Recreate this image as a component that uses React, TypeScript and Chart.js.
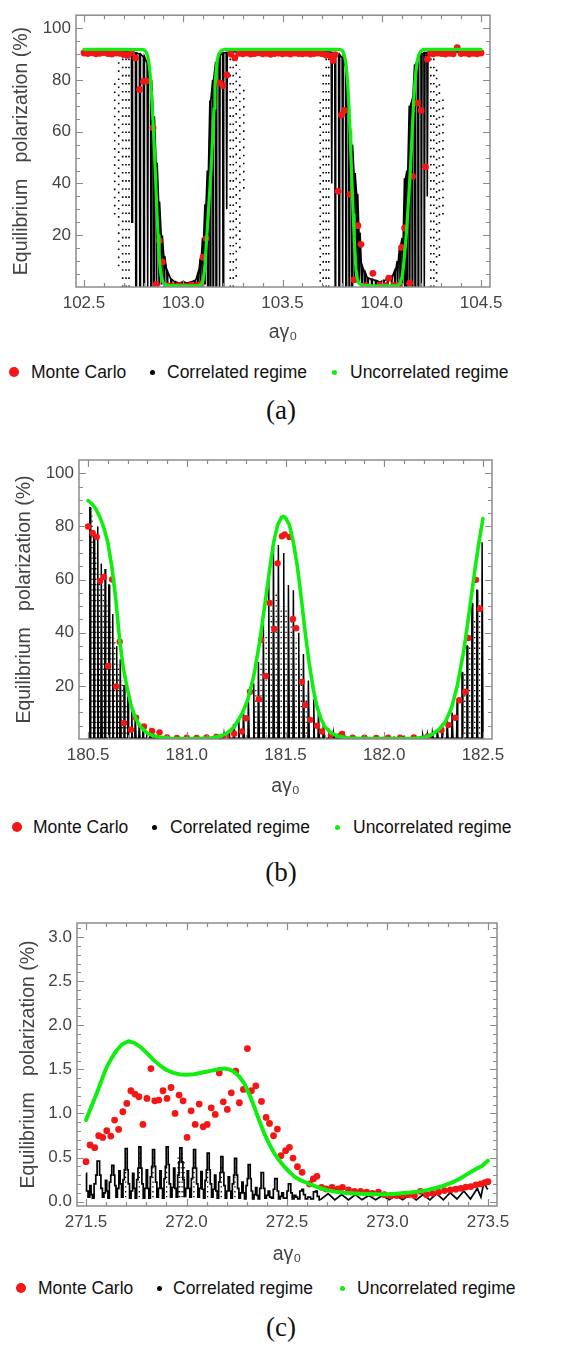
import React, { useEffect, useRef } from "react";
import { Chart, registerables } from "chart.js";

Chart.register(...registerables);

type Pt = [number, number];
type Col = [number, number, number];

const SANS = '"Liberation Sans", Arial, Helvetica, sans-serif';
const SERIF = '"Liberation Serif", "Times New Roman", serif';
const TEXT_GRAY = "#444444";
const FRAME_GRAY = "#8c8c8c";
const RED = "rgb(242,22,22)";
const GREEN = "rgb(16,238,16)";

const Y_TITLE = "Equilibrium   polarization (%)";
const X_TITLE = "a\u03b3\u2080";
const LEGEND_LABELS = ["Monte Carlo", "Correlated regime", "Uncorrelated regime"];

// ---------------- Panel (a) ----------------
const aXTicks = [102.5, 103.0, 103.5, 104.0, 104.5];
const aYTicks = [20, 40, 60, 80, 100];

const aGreen: Pt[] = [
  [102.5, 91.8], [102.7, 91.8], [102.8, 91.7], [102.812, 91], [102.822, 89], [102.83, 85], [102.836, 80],
  [102.842, 72], [102.848, 64], [102.853, 56], [102.858, 47], [102.863, 38], [102.868, 28], [102.873, 20],
  [102.878, 13], [102.883, 8], [102.888, 4.5], [102.895, 2.2], [102.905, 1], [102.93, 0.5], [103.0, 0.4],
  [103.08, 0.5], [103.092, 1.2], [103.1, 2.5], [103.105, 5], [103.11, 9], [103.115, 15], [103.12, 21],
  [103.125, 27], [103.13, 33], [103.135, 39], [103.14, 45], [103.145, 53], [103.15, 60], [103.155, 69],
  [103.16, 77], [103.165, 83], [103.17, 87], [103.178, 90], [103.19, 91.2], [103.205, 91.8], [103.79, 91.8],
  [103.803, 91.2], [103.812, 89.5], [103.82, 86], [103.826, 81], [103.831, 75], [103.836, 68], [103.84, 60],
  [103.844, 52], [103.848, 44], [103.852, 36], [103.856, 28], [103.86, 21], [103.865, 13], [103.87, 7],
  [103.876, 3.5], [103.885, 1.5], [103.9, 0.6], [103.95, 0.4], [104.08, 0.5], [104.093, 1.5], [104.102, 4],
  [104.108, 7], [104.114, 12], [104.12, 17], [104.125, 22], [104.13, 28], [104.135, 34], [104.14, 40],
  [104.145, 47], [104.15, 55], [104.155, 63], [104.16, 71], [104.165, 77], [104.17, 82], [104.177, 86.5],
  [104.185, 89.5], [104.195, 91], [104.21, 91.8], [104.5, 91.8],
];

const aRed: Pt[] = [
  [102.5, 90.4], [102.52, 90.2], [102.54, 90.5], [102.56, 90.1], [102.58, 90.3], [102.6, 90.6], [102.62, 90.2],
  [102.64, 90.0], [102.66, 90.4], [102.68, 90.3], [102.7, 89.8], [102.72, 89.5], [102.74, 90.6], [102.76, 88.5],
  [102.78, 76.3], [102.8, 79.4], [102.815, 79.6], [102.848, 61.5], [102.865, 1], [102.88, 17.8], [102.895, 9.7],
  [102.92, 0.5], [102.95, 0.4], [102.98, 0.6], [103.01, 0.3], [103.04, 0.8], [103.07, 0.5], [103.09, 1.2],
  [103.1, 11.5], [103.115, 18.7], [103.185, 78.8], [103.2, 77.8], [103.22, 81.9], [103.24, 90.0], [103.26, 88.5],
  [103.28, 90.3], [103.3, 90.1], [103.32, 90.4], [103.34, 90.0], [103.36, 90.2], [103.38, 90.5], [103.4, 90.1],
  [103.42, 90.3], [103.44, 89.9], [103.46, 90.2], [103.48, 90.4], [103.5, 90.1], [103.52, 90.3], [103.54, 90.0],
  [103.56, 90.4], [103.58, 90.2], [103.6, 90.1], [103.62, 90.3], [103.64, 90.0], [103.66, 90.2], [103.68, 90.4],
  [103.7, 90.1], [103.72, 89.6], [103.74, 89.3], [103.755, 87.5], [103.765, 89.8], [103.78, 37], [103.797, 66.4],
  [103.812, 68.2], [103.84, 35.8], [103.86, 2.8], [103.88, 23.7], [103.895, 16.5], [103.92, 0.5], [103.955, 5.3],
  [103.99, 0.8], [104.02, 0.5], [104.035, 3.4], [104.06, 0.6], [104.09, 1.0], [104.1, 15.3], [104.115, 22.8],
  [104.14, 1.5], [104.155, 42.7], [104.18, 71], [104.198, 68.2], [104.22, 46.4], [104.23, 88], [104.245, 90.3],
  [104.26, 90.1], [104.28, 90.4], [104.3, 90.2], [104.32, 90.0], [104.34, 90.3], [104.36, 90.1], [104.38, 92.5],
  [104.4, 90.2], [104.42, 90.4], [104.44, 90.0], [104.46, 90.3], [104.48, 90.1], [104.5, 90.4],
];

// correlated regime: [x, running level, excursion reached at x]
const aBlack: Col[] = [
  [102.5, 90.8, 90.8], [102.735, 90.8, 90.8], [102.742, 90.6, 25], [102.762, 90.4, 0], [102.782, 90.0, 0],
  [102.802, 89.0, 0], [102.821, 86.5, 0], [102.838, 80, 0], [102.852, 66, 0], [102.866, 48, 1], [102.879, 33, 1],
  [102.892, 20, 1], [102.905, 12, 1], [102.92, 6, 1], [102.94, 3, 0.5], [102.96, 2, 0.5], [102.98, 1.5, 0.5],
  [103.0, 2, 0.5], [103.02, 1.5, 0.5], [103.04, 2, 0.5], [103.06, 2.5, 0.5], [103.075, 5, 1], [103.088, 11, 1],
  [103.1, 19, 1], [103.112, 32, 1], [103.124, 45, 0], [103.137, 72, 0], [103.151, 80, 0], [103.166, 87, 0],
  [103.183, 89.5, 0], [103.201, 90.4, 0], [103.219, 90.6, 30], [103.23, 90.8, 90.8], [103.74, 90.8, 90.8],
  [103.748, 90.6, 40], [103.766, 90.4, 0], [103.785, 89.8, 0], [103.803, 88.5, 0], [103.82, 85, 0],
  [103.836, 66, 0], [103.85, 55, 0], [103.863, 44, 2], [103.876, 36, 2], [103.888, 21, 2], [103.9, 8, 1],
  [103.915, 5.5, 1], [103.93, 3.5, 0.5], [103.95, 3, 0.5], [103.97, 2.5, 0.5], [103.99, 2, 0.5], [104.01, 2.5, 0.5],
  [104.03, 3, 0.5], [104.05, 4, 1], [104.066, 6, 1], [104.08, 10, 1], [104.093, 16, 1], [104.105, 19, 1],
  [104.117, 42, 0], [104.129, 45, 0], [104.141, 70, 0], [104.154, 72, 0], [104.168, 86, 0], [104.184, 88.5, 0],
  [104.2, 90, 0], [104.215, 90.5, 0], [104.23, 90.6, 35], [104.24, 90.8, 90.8], [104.5, 90.8, 90.8],
];

// sparse correlated-regime samples: [x, lowest dot, highest dot]
const aDots: Col[] = [
  [102.655, 28, 80], [102.675, 8, 88], [102.695, 0, 90], [102.712, 0, 90], [102.727, 0, 90],
  [103.237, 0, 90], [103.252, 0, 90], [103.267, 4, 88], [103.285, 15, 84], [103.305, 38, 78],
  [103.69, 2, 74], [103.705, 0, 82], [103.72, 0, 89], [103.733, 0, 90],
  [104.247, 0, 90], [104.262, 0, 89], [104.276, 2, 86], [104.29, 12, 80], [104.308, 28, 74],
];

// ---------------- Panel (b) ----------------
const bXTicks = [180.5, 181.0, 181.5, 182.0, 182.5];
const bYTicks = [20, 40, 60, 80, 100];

const bGreen: Pt[] = [
  [180.5, 89.7], [180.52, 88.5], [180.54, 86.5], [180.56, 83.5], [180.58, 79.5], [180.6, 74], [180.62, 65],
  [180.64, 53], [180.66, 37], [180.68, 26], [180.7, 18.5], [180.72, 12], [180.74, 8], [180.76, 5.2], [180.78, 3.5],
  [180.8, 2.2], [180.83, 1.2], [180.87, 0.6], [180.92, 0.3], [181.05, 0.2], [181.12, 0.4], [181.16, 0.9],
  [181.2, 2.0], [181.24, 4.5], [181.28, 9.5], [181.31, 15], [181.34, 24], [181.37, 37], [181.4, 53], [181.42, 64],
  [181.44, 74], [181.46, 80.5], [181.48, 83.5], [181.49, 83.8], [181.5, 83.3], [181.52, 80.5], [181.54, 74],
  [181.56, 65], [181.58, 53], [181.6, 40], [181.62, 28.5], [181.64, 19], [181.66, 12], [181.68, 7.5], [181.7, 4.5],
  [181.73, 2.3], [181.77, 1.0], [181.82, 0.4], [181.9, 0.2], [182.15, 0.2], [182.2, 0.6], [182.24, 1.6],
  [182.28, 3.8], [182.31, 6.5], [182.34, 11.5], [182.37, 20], [182.4, 32], [182.42, 42], [182.44, 53],
  [182.46, 64], [182.48, 74], [182.5, 83],
];

const bRed: Pt[] = [
  [180.5, 80], [180.523, 77.5], [180.544, 76], [180.561, 59.5], [180.58, 61], [180.602, 27.5], [180.622, 60],
  [180.642, 19.8], [180.66, 36.6], [180.682, 6], [180.717, 3.5], [180.743, 8], [180.783, 4.7], [180.824, 3],
  [180.862, 2.5], [180.9, 0.6], [180.95, 0.4], [181.0, 0.5], [181.05, 0.4], [181.1, 0.6], [181.15, 0.8],
  [181.2, 1.0], [181.24, 2.0], [181.28, 2.8], [181.3, 7.8], [181.32, 17.8], [181.365, 15], [181.376, 37.3],
  [181.4, 23.7], [181.42, 51.2], [181.443, 41.4], [181.46, 66.1], [181.482, 76.3], [181.496, 77], [181.52, 76],
  [181.538, 45.2], [181.554, 41.7], [181.583, 21.5], [181.6, 12.8], [181.626, 7.2], [181.66, 5], [181.685, 2.8],
  [181.73, 1.5], [181.786, 1.9], [181.84, 0.5], [181.9, 0.5], [181.96, 0.4], [182.02, 0.5], [182.08, 0.5],
  [182.15, 0.6], [182.22, 1.0], [182.29, 3.4], [182.325, 5.3], [182.36, 8], [182.38, 14.6], [182.41, 17.8],
  [182.426, 38], [182.465, 59.9], [182.485, 49],
];

// correlated regime oscillation: [x, running level, peak reached at x]
const bBlack: Col[] = [
  [180.51, 0.3, 87], [180.53, 0.3, 78], [180.549, 0.3, 80], [180.568, 0.3, 66], [180.587, 0.3, 64],
  [180.606, 0.3, 58], [180.625, 0.3, 47], [180.645, 0.3, 35], [180.664, 0.3, 30], [180.683, 0.3, 20],
  [180.702, 0.3, 17], [180.721, 0.3, 11], [180.74, 0.3, 9], [180.76, 0.3, 6], [180.778, 0.3, 5],
  [180.797, 0.3, 3], [180.816, 0.3, 2.5], [180.835, 0.3, 1.5], [180.854, 0.3, 1.2], [180.9, 0.3, 0.8],
  [180.95, 0.3, 0.6], [181.0, 0.3, 0.6], [181.05, 0.3, 0.7], [181.1, 0.3, 0.9], [181.15, 0.3, 1.2],
  [181.19, 0.3, 2], [181.213, 0.3, 3], [181.238, 0.3, 5.3], [181.263, 0.3, 7.8], [181.288, 0.3, 11],
  [181.313, 0.3, 15], [181.339, 0.3, 21], [181.364, 0.3, 29], [181.389, 0.3, 43], [181.415, 0.3, 63],
  [181.44, 0.3, 72], [181.465, 0.3, 73], [181.491, 0.3, 70], [181.516, 0.3, 58], [181.541, 0.3, 56],
  [181.567, 0.3, 40], [181.592, 0.3, 32], [181.617, 0.3, 22], [181.643, 0.3, 15], [181.668, 0.3, 10],
  [181.693, 0.3, 6.5], [181.719, 0.3, 4], [181.744, 0.3, 2.5], [181.77, 0.3, 1.8], [181.8, 0.3, 1.2],
  [181.85, 0.3, 0.8], [181.9, 0.3, 0.6], [181.95, 0.3, 0.6], [182.0, 0.3, 0.6], [182.05, 0.3, 0.7],
  [182.1, 0.3, 0.9], [182.15, 0.3, 1.1], [182.195, 0.3, 1.5], [182.22, 0.3, 2], [182.245, 0.3, 2.5],
  [182.27, 0.3, 3.5], [182.295, 0.3, 5.3], [182.32, 0.3, 7], [182.345, 0.3, 10], [182.37, 0.3, 14],
  [182.395, 0.3, 25], [182.42, 0.3, 35], [182.445, 0.3, 51], [182.47, 0.3, 56], [182.497, 0.3, 74],
];

const bDots: Col[] = [
  [180.52, 0, 84], [180.539, 0, 70], [180.558, 0, 62], [180.577, 0, 58], [180.596, 0, 52], [180.615, 0, 44],
  [180.635, 0, 38], [180.654, 0, 28], [180.673, 0, 22], [180.692, 0, 14],
  [181.35, 0, 20], [181.376, 0, 30], [181.402, 0, 40], [181.428, 0, 50], [181.453, 0, 55], [181.478, 0, 50],
  [181.503, 0, 50], [181.529, 0, 45], [181.554, 0, 38], [181.58, 0, 28], [181.605, 0, 18],
  [182.408, 0, 25], [182.433, 0, 35], [182.458, 0, 45], [182.483, 0, 52],
];

// ---------------- Panel (c) ----------------
const cXTicks = [271.5, 272.0, 272.5, 273.0, 273.5];
const cYTicks = [0, 0.5, 1.0, 1.5, 2.0, 2.5, 3.0];

const cGreen: Pt[] = [
  [271.5, 0.925], [271.525, 1.07], [271.553, 1.226], [271.578, 1.38], [271.603, 1.528], [271.628, 1.63],
  [271.653, 1.717], [271.68, 1.785], [271.712, 1.819], [271.74, 1.8], [271.77, 1.755], [271.8, 1.69],
  [271.837, 1.604], [271.87, 1.54], [271.903, 1.49], [271.935, 1.46], [271.97, 1.442], [272.0, 1.44],
  [272.037, 1.445], [272.08, 1.465], [272.12, 1.483], [272.155, 1.5], [272.187, 1.51], [272.212, 1.5],
  [272.237, 1.472], [272.262, 1.42], [272.287, 1.34], [272.312, 1.22], [272.337, 1.075], [272.362, 0.92],
  [272.387, 0.774], [272.412, 0.65], [272.437, 0.547], [272.462, 0.465], [272.487, 0.396], [272.512, 0.335],
  [272.537, 0.283], [272.57, 0.24], [272.603, 0.208], [272.635, 0.178], [272.67, 0.151], [272.7, 0.13],
  [272.737, 0.113], [272.78, 0.1], [272.82, 0.094], [272.86, 0.09], [272.903, 0.087], [272.95, 0.084],
  [272.987, 0.083], [273.03, 0.087], [273.07, 0.094], [273.11, 0.102], [273.153, 0.113], [273.195, 0.13],
  [273.237, 0.151], [273.28, 0.18], [273.32, 0.215], [273.36, 0.26], [273.403, 0.32], [273.44, 0.37],
  [273.47, 0.404], [273.5, 0.464],
];

const cRed: Pt[] = [
  [271.5, 0.453], [271.52, 0.642], [271.543, 0.611], [271.563, 0.747], [271.583, 0.728], [271.603, 0.804],
  [271.623, 0.743], [271.642, 0.925], [271.662, 0.819], [271.683, 1.019], [271.703, 1.113], [271.723, 1.257],
  [271.743, 1.219], [271.763, 1.189], [271.783, 0.875], [271.803, 1.17], [271.823, 1.509], [271.842, 1.143],
  [271.862, 1.151], [271.883, 1.257], [271.903, 1.17], [271.923, 1.294], [271.943, 1.0], [271.963, 1.208],
  [271.983, 1.143], [272.003, 0.728], [272.023, 1.03], [272.043, 0.875], [272.063, 1.106], [272.083, 0.849],
  [272.103, 0.875], [272.123, 1.064], [272.143, 0.989], [272.163, 1.46], [272.183, 1.132], [272.203, 1.045],
  [272.223, 1.234], [272.245, 1.479], [272.263, 1.121], [272.283, 1.272], [272.303, 1.736], [272.323, 1.257],
  [272.345, 1.313], [272.373, 1.136], [272.396, 0.955], [272.413, 0.887], [272.433, 0.747], [272.452, 0.823],
  [272.47, 0.52], [272.493, 0.577], [272.512, 0.615], [272.53, 0.494], [272.552, 0.396], [272.575, 0.332],
  [272.612, 0.2], [272.631, 0.257], [272.649, 0.287], [272.672, 0.162], [272.694, 0.143], [272.724, 0.162],
  [272.754, 0.143], [272.776, 0.162], [272.806, 0.132], [272.836, 0.117], [272.866, 0.117], [272.896, 0.106],
  [272.925, 0.094], [272.955, 0.106], [272.985, 0.079], [273.015, 0.068], [273.045, 0.068], [273.075, 0.068],
  [273.104, 0.079], [273.134, 0.068], [273.164, 0.117], [273.194, 0.079], [273.224, 0.094], [273.254, 0.106],
  [273.284, 0.125], [273.313, 0.132], [273.34, 0.14], [273.365, 0.15], [273.39, 0.165], [273.415, 0.17],
  [273.44, 0.19], [273.465, 0.2], [273.485, 0.215], [273.5, 0.226],
];

// correlated regime, step-like part
const cBlack: Pt[] = [
  [271.5, 0.32], [271.505, 0.12], [271.515, 0.05], [271.522, 0.18], [271.528, 0.08], [271.535, 0.04],
  [271.545, 0.2], [271.552, 0.3], [271.558, 0.46], [271.565, 0.46], [271.57, 0.3], [271.578, 0.15],
  [271.585, 0.05], [271.593, 0.1], [271.6, 0.24], [271.606, 0.12], [271.612, 0.04], [271.62, 0.22],
  [271.626, 0.3], [271.63, 0.41], [271.636, 0.41], [271.64, 0.3], [271.646, 0.18], [271.652, 0.05],
  [271.66, 0.15], [271.667, 0.35], [271.673, 0.2], [271.68, 0.05], [271.688, 0.25], [271.693, 0.36],
  [271.697, 0.6], [271.703, 0.6], [271.707, 0.36], [271.713, 0.2], [271.72, 0.04], [271.728, 0.12],
  [271.735, 0.32], [271.741, 0.15], [271.748, 0.04], [271.756, 0.25], [271.761, 0.38], [271.765, 0.62],
  [271.771, 0.62], [271.775, 0.38], [271.781, 0.2], [271.788, 0.04], [271.796, 0.15], [271.803, 0.36],
  [271.809, 0.15], [271.816, 0.04], [271.824, 0.28], [271.829, 0.4], [271.833, 0.59], [271.839, 0.59],
  [271.843, 0.4], [271.849, 0.22], [271.856, 0.05], [271.864, 0.15], [271.871, 0.35], [271.877, 0.15],
  [271.884, 0.04], [271.892, 0.26], [271.897, 0.4], [271.901, 0.62], [271.907, 0.62], [271.911, 0.42],
  [271.917, 0.2], [271.924, 0.05], [271.932, 0.16], [271.939, 0.38], [271.945, 0.15], [271.952, 0.05],
  [271.96, 0.3], [271.965, 0.45], [271.969, 0.61], [271.975, 0.61], [271.979, 0.45], [271.985, 0.25],
  [271.992, 0.06], [272.0, 0.15], [272.007, 0.35], [272.013, 0.15], [272.02, 0.05], [272.028, 0.26],
  [272.033, 0.38], [272.037, 0.59], [272.043, 0.59], [272.047, 0.38], [272.053, 0.2], [272.06, 0.05],
  [272.068, 0.15], [272.075, 0.34], [272.081, 0.14], [272.088, 0.04], [272.096, 0.24], [272.101, 0.36],
  [272.105, 0.55], [272.111, 0.55], [272.115, 0.36], [272.121, 0.2], [272.128, 0.05], [272.136, 0.14],
  [272.143, 0.3], [272.149, 0.12], [272.156, 0.04], [272.164, 0.22], [272.169, 0.33], [272.173, 0.51],
  [272.179, 0.51], [272.183, 0.33], [272.189, 0.18], [272.196, 0.04], [272.204, 0.12], [272.211, 0.28],
  [272.217, 0.12], [272.224, 0.04], [272.232, 0.2], [272.237, 0.3], [272.241, 0.49], [272.247, 0.49],
  [272.251, 0.3], [272.257, 0.15], [272.264, 0.04], [272.272, 0.1], [272.279, 0.22], [272.285, 0.1],
  [272.292, 0.03], [272.3, 0.18], [272.305, 0.26], [272.309, 0.42], [272.315, 0.42], [272.319, 0.26],
  [272.325, 0.12], [272.332, 0.03], [272.34, 0.08], [272.347, 0.16], [272.353, 0.07], [272.36, 0.03],
  [272.368, 0.15], [272.374, 0.33], [272.38, 0.33], [272.386, 0.15], [272.393, 0.04], [272.402, 0.07],
  [272.41, 0.12], [272.418, 0.05], [272.428, 0.04], [272.436, 0.14], [272.442, 0.26], [272.448, 0.26],
  [272.454, 0.12], [272.462, 0.03], [272.47, 0.06], [272.478, 0.1], [272.486, 0.04], [272.496, 0.04],
  [272.504, 0.12], [272.51, 0.2], [272.516, 0.2], [272.522, 0.1], [272.53, 0.03], [272.54, 0.07],
  [272.548, 0.05], [272.558, 0.03], [272.57, 0.12], [272.578, 0.14], [272.586, 0.08], [272.596, 0.03],
  [272.61, 0.05], [272.625, 0.03], [272.638, 0.11], [272.646, 0.12], [272.655, 0.06], [272.665, 0.02],
];

// correlated regime, smooth small-amplitude tail
const cBlackTail: Pt[] = [
  [272.665, 0.02], [272.705, 0.09], [272.738, 0.02], [272.772, 0.08], [272.806, 0.02], [272.84, 0.08],
  [272.873, 0.02], [272.907, 0.07], [272.941, 0.02], [272.975, 0.07], [273.008, 0.02], [273.042, 0.07],
  [273.076, 0.02], [273.11, 0.08], [273.143, 0.02], [273.177, 0.08], [273.211, 0.02], [273.245, 0.09],
  [273.278, 0.02], [273.312, 0.1], [273.346, 0.03], [273.38, 0.12], [273.413, 0.03], [273.447, 0.15],
  [273.465, 0.05], [273.48, 0.22], [273.495, 0.15], [273.5, 0.14],
];

const cDots: Col[] = [
  [271.697, 0.05, 0.55], [271.765, 0.05, 0.55], [271.833, 0.05, 0.5], [271.901, 0.05, 0.55],
  [271.958, 0.05, 0.5], [271.966, 0.05, 0.58], [271.978, 0.05, 0.55], [271.988, 0.05, 0.45],
  [272.037, 0.05, 0.5], [272.105, 0.05, 0.45], [272.173, 0.05, 0.4], [272.241, 0.05, 0.4],
];

// ---------------- helpers ----------------
type XY = { x: number; y: number | null };
const toXY = (pts: Pt[]): XY[] => pts.map(([x, y]) => ({ x, y }));
const colsToXY = (cols: Col[]): XY[] =>
  cols.flatMap(([x, lo, hi]) => [{ x, y: lo }, { x, y: hi }, { x, y: null }]);
// running level with a narrow excursion at each x
const excursionsToXY = (items: Col[], hw: number): XY[] =>
  items.flatMap(([x, level, ext]) =>
    level === ext
      ? [{ x, y: level }]
      : [
          { x: x - hw, y: level },
          { x: x - hw / 3, y: ext },
          { x: x + hw / 3, y: ext },
          { x: x + hw, y: level },
        ]
  );

function gridValues(min: number, max: number, step: number) {
  const out: number[] = [];
  const k0 = Math.ceil(min / step - 1e-9);
  const k1 = Math.floor(max / step + 1e-9);
  for (let k = k0; k <= k1; k++) out.push(+(k * step).toFixed(6));
  return out;
}

interface BlackPart {
  data: XY[];
  width: number;
  stepped?: boolean | string;
}

interface PanelCfg {
  top: number;
  height: number;
  plotLeft: number;
  plotRight: number;
  plotTop: number;
  plotBottom: number;
  xRange: [number, number];
  yRange: [number, number];
  xTicks: number[];
  yTicks: number[];
  xMinorStep: number;
  yMinorStep: number;
  yDecimals: number;
  yTitleCenter: number;
  xTitleCenter: number;
  green: XY[];
  red: XY[];
  black: BlackPart[];
  dots: XY[];
  dotWidth: number;
  dotDash: number[];
  greenWidth: number;
  redRadius: number;
}

const TITLE_FONT = 19.5;
const TICK_FONT = 17;

function Panel({ cfg }: { cfg: PanelCfg }) {
  const ref = useRef<HTMLCanvasElement | null>(null);

  useEffect(() => {
    const canvas = ref.current;
    if (!canvas) return;
    const lh = TITLE_FONT * 1.2;
    const yAxisWidth = cfg.plotLeft;
    const xAxisHeight = cfg.top + cfg.height - cfg.plotBottom;
    const xMinor = gridValues(cfg.xRange[0], cfg.xRange[1], cfg.xMinorStep);
    const yMinor = gridValues(cfg.yRange[0], cfg.yRange[1], cfg.yMinorStep);
    const isMajor = (v: number, majors: number[]) => majors.some((m) => Math.abs(m - v) < 1e-6);

    const framePlugin = {
      id: "frameTicks",
      afterDatasetsDraw(chart: any) {
        const { ctx, chartArea: ca, scales } = chart;
        const xs = scales.x;
        const ys = scales.y;
        ctx.save();
        ctx.strokeStyle = FRAME_GRAY;
        ctx.lineWidth = 1.2;
        ctx.beginPath();
        for (const v of xMinor) {
          const p = Math.round(xs.getPixelForValue(v)) + 0.5;
          if (p <= ca.left + 1 || p >= ca.right - 1) continue;
          const len = isMajor(v, cfg.xTicks) ? 7 : 4;
          ctx.moveTo(p, ca.bottom);
          ctx.lineTo(p, ca.bottom - len);
          ctx.moveTo(p, ca.top);
          ctx.lineTo(p, ca.top + len);
        }
        for (const v of yMinor) {
          const p = Math.round(ys.getPixelForValue(v)) + 0.5;
          if (p <= ca.top + 1 || p >= ca.bottom - 1) continue;
          const len = isMajor(v, cfg.yTicks) ? 7 : 4;
          ctx.moveTo(ca.left, p);
          ctx.lineTo(ca.left + len, p);
          ctx.moveTo(ca.right, p);
          ctx.lineTo(ca.right - len, p);
        }
        ctx.stroke();
        ctx.lineWidth = 1.5;
        ctx.strokeRect(ca.left, ca.top, ca.right - ca.left, ca.bottom - ca.top);
        ctx.restore();
      },
    };

    const blackSets = cfg.black.map((part, i) => ({
      label: LEGEND_LABELS[1] + (i ? ` (${i + 1})` : ""),
      data: part.data,
      showLine: true,
      stepped: part.stepped ?? false,
      borderColor: "#000000",
      backgroundColor: "#000000",
      borderWidth: part.width,
      pointRadius: 0,
      order: 2,
    }));

    const chart = new Chart(canvas, {
      type: "scatter",
      data: {
        datasets: [
          {
            label: LEGEND_LABELS[2],
            data: cfg.green,
            showLine: true,
            borderColor: GREEN,
            backgroundColor: GREEN,
            borderWidth: cfg.greenWidth,
            pointRadius: 0,
            borderJoinStyle: "round",
            borderCapStyle: "round",
            order: 0,
          },
          {
            label: LEGEND_LABELS[0],
            data: cfg.red,
            showLine: false,
            backgroundColor: RED,
            borderColor: RED,
            pointRadius: cfg.redRadius,
            pointBorderWidth: 0,
            order: 1,
          },
          ...blackSets,
          {
            label: LEGEND_LABELS[1] + " (sparse)",
            data: cfg.dots,
            showLine: true,
            spanGaps: false,
            borderColor: "#000000",
            backgroundColor: "#000000",
            borderWidth: cfg.dotWidth,
            borderDash: cfg.dotDash,
            pointRadius: 0,
            order: 3,
          },
        ],
      },
      options: {
        responsive: false,
        maintainAspectRatio: false,
        animation: false,
        devicePixelRatio: 1,
        events: [],
        layout: {
          padding: {
            left: 0,
            right: 575 - cfg.plotRight,
            top: cfg.plotTop - cfg.top,
            bottom: 0,
          },
        },
        plugins: {
          legend: { display: false },
          tooltip: { enabled: false },
        },
        scales: {
          x: {
            type: "linear",
            position: "bottom",
            min: cfg.xRange[0],
            max: cfg.xRange[1],
            afterBuildTicks: (s: any) => {
              s.ticks = cfg.xTicks.map((v) => ({ value: v }));
            },
            afterFit: (s: any) => {
              s.height = xAxisHeight;
            },
            grid: { display: false, drawTicks: false },
            border: { display: false },
            ticks: {
              autoSkip: false,
              maxRotation: 0,
              minRotation: 0,
              padding: 6,
              color: TEXT_GRAY,
              font: { family: SANS, size: TICK_FONT },
              callback: (v: any) => Number(v).toFixed(1),
            },
            title: {
              display: true,
              text: X_TITLE,
              color: TEXT_GRAY,
              font: { family: SANS, size: TITLE_FONT },
              padding: { top: 0, bottom: cfg.top + cfg.height - cfg.xTitleCenter - lh / 2 },
            },
          },
          y: {
            type: "linear",
            position: "left",
            min: cfg.yRange[0],
            max: cfg.yRange[1],
            afterBuildTicks: (s: any) => {
              s.ticks = cfg.yTicks.map((v) => ({ value: v }));
            },
            afterFit: (s: any) => {
              s.width = yAxisWidth;
            },
            grid: { display: false, drawTicks: false },
            border: { display: false },
            ticks: {
              autoSkip: false,
              padding: 5,
              color: TEXT_GRAY,
              font: { family: SANS, size: TICK_FONT },
              callback: (v: any) => Number(v).toFixed(cfg.yDecimals),
            },
            title: {
              display: true,
              text: Y_TITLE,
              color: TEXT_GRAY,
              font: { family: SANS, size: TITLE_FONT },
              padding: { top: cfg.yTitleCenter - lh / 2, bottom: 0 },
            },
          },
        },
      },
      plugins: [framePlugin],
    } as any);

    return () => chart.destroy();
  }, [cfg]);

  return (
    <canvas
      ref={ref}
      width={575}
      height={cfg.height}
      style={{ position: "absolute", left: 0, top: cfg.top, width: 575, height: cfg.height }}
    />
  );
}

function Legend({ y, pos }: { y: number; pos: number[] }) {
  const [rx, rt, bx, bt, gx, gt] = pos;
  const dot = (cx: number, d: number, color: string) => (
    <div
      style={{
        position: "absolute",
        left: cx - d / 2,
        top: y - d / 2,
        width: d,
        height: d,
        borderRadius: "50%",
        background: color,
      }}
    />
  );
  const label = (x: number, text: string) => (
    <span
      style={{
        position: "absolute",
        left: x,
        top: y - 11,
        fontFamily: SANS,
        fontSize: 17.5,
        lineHeight: "22px",
        color: "#111",
        whiteSpace: "pre",
      }}
    >
      {text}
    </span>
  );
  return (
    <>
      {dot(rx, 10, RED)}
      {label(rt, LEGEND_LABELS[0])}
      {dot(bx, 5, "#000")}
      {label(bt, LEGEND_LABELS[1])}
      {dot(gx, 5, GREEN)}
      {label(gt, LEGEND_LABELS[2])}
    </>
  );
}

function Caption({ y, text }: { y: number; text: string }) {
  return (
    <div
      style={{
        position: "absolute",
        left: 231,
        width: 100,
        top: y - 20,
        textAlign: "center",
        fontFamily: SERIF,
        fontSize: 27,
        lineHeight: "34px",
        color: "#111",
      }}
    >
      {text}
    </div>
  );
}

const panelA: PanelCfg = {
  top: 0, height: 350, plotLeft: 76, plotRight: 490, plotTop: 7, plotBottom: 287,
  xRange: [102.46, 104.545], yRange: [0, 105], xTicks: aXTicks, yTicks: aYTicks,
  xMinorStep: 0.1, yMinorStep: 5, yDecimals: 0, yTitleCenter: 21.5, xTitleCenter: 333,
  green: toXY(aGreen), red: toXY(aRed),
  black: [{ data: excursionsToXY(aBlack, 0.0028), width: 1.6 }],
  dots: colsToXY(aDots), dotWidth: 1.6, dotDash: [1.6, 6.5],
  greenWidth: 3.2, redRadius: 3.4,
};

const panelB: PanelCfg = {
  top: 440, height: 364, plotLeft: 79, plotRight: 492, plotTop: 460, plotBottom: 739,
  xRange: [180.454, 182.546], yRange: [0, 105], xTicks: bXTicks, yTicks: bYTicks,
  xMinorStep: 0.1, yMinorStep: 5, yDecimals: 0, yTitleCenter: 25, xTitleCenter: 787,
  green: toXY(bGreen), red: toXY(bRed),
  black: [{ data: excursionsToXY(bBlack, 0.0035), width: 1.5 }],
  dots: colsToXY(bDots), dotWidth: 1.3, dotDash: [1.3, 4],
  greenWidth: 3.6, redRadius: 3.2,
};

const panelC: PanelCfg = {
  top: 900, height: 372, plotLeft: 77, plotRight: 497, plotTop: 923, plotBottom: 1206,
  xRange: [271.455, 273.545], yRange: [-0.05, 3.16], xTicks: cXTicks, yTicks: cYTicks,
  xMinorStep: 0.1, yMinorStep: 0.1, yDecimals: 1, yTitleCenter: 28.5, xTitleCenter: 1255,
  green: toXY(cGreen), red: toXY(cRed),
  black: [
    { data: toXY(cBlack), width: 1.7, stepped: "middle" },
    { data: toXY(cBlackTail), width: 1.7 },
  ],
  dots: colsToXY(cDots), dotWidth: 1.3, dotDash: [1.3, 3.5],
  greenWidth: 4, redRadius: 3.4,
};

export default function App() {
  return (
    <div
      style={{
        position: "absolute",
        left: 0,
        top: 0,
        width: 575,
        height: 1345,
        background: "#fff",
        overflow: "hidden",
      }}
    >
      <Panel cfg={panelA} />
      <Legend y={372} pos={[14, 31, 152, 167, 334, 350]} />
      <Caption y={413} text="(a)" />
      <Panel cfg={panelB} />
      <Legend y={827} pos={[17, 33, 154, 170, 337, 353]} />
      <Caption y={875} text="(b)" />
      <Panel cfg={panelC} />
      <Legend y={1288} pos={[21, 38, 159, 173, 342, 357]} />
      <Caption y={1330} text="(c)" />
    </div>
  );
}
